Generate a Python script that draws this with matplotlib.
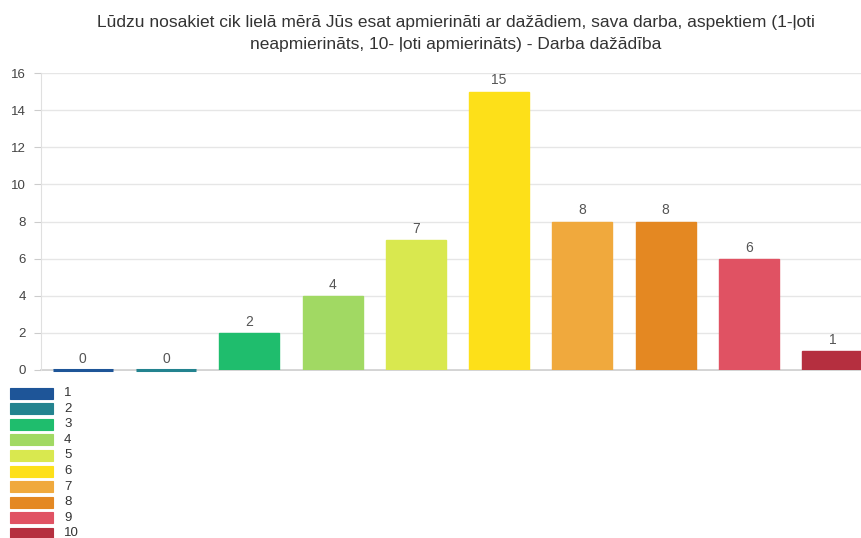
import matplotlib
matplotlib.use("Agg")
import matplotlib.pyplot as plt
from matplotlib.patches import Rectangle

# atbilžu skala un respondentu skaits
categories = ["1", "2", "3", "4", "5", "6", "7", "8", "9", "10"]
counts = [0, 0, 2, 4, 7, 15, 8, 8, 6, 1]
colors = ["#1e5598", "#23838f", "#1fbd6d", "#a1d963", "#d9e84f",
          "#fde019", "#f0a93d", "#e48822", "#e05263", "#b52f3f"]
yticks = [0, 2, 4, 6, 8, 10, 12, 14, 16]
title = ("Lūdzu nosakiet cik lielā mērā Jūs esat apmierināti ar dažādiem, sava darba, aspektiem (1-ļoti\n"
         "neapmierināts, 10- ļoti apmierināts) - Darba dažādība")

W, H = 862, 538
fig = plt.figure(figsize=(W / 100, H / 100), dpi=100)
plt.rcParams['font.family'] = ['Liberation Sans', 'DejaVu Sans']

# grafika laukums pikseļos
left, right, top, bottom = 41, 862, 73, 370
ax = fig.add_axes([left / W, (H - bottom) / H, (right - left) / W, (bottom - top) / H])

step = 83.3
bw = 60 / step
x = list(range(len(categories)))
ax.bar(x, counts, width=bw, color=colors, edgecolor=colors, linewidth=1.0, zorder=3)
for xi, v, c in zip(x, counts, colors):
    if v == 0:
        # nulles stabiņš – tikai plāna līnija pie pamata
        ax.plot([xi - bw / 2, xi + bw / 2], [v, v], color=c, linewidth=2.2,
                solid_capstyle='butt', zorder=4, clip_on=False)
    ax.text(xi, v + 0.22, str(v), ha='center', va='bottom', fontsize=10, color='#555555', zorder=4)

ax.set_xlim(-0.5, -0.5 + (right - left) / step)
ax.set_ylim(0, 16)
ax.set_yticks(yticks)
ax.set_yticklabels([str(t) for t in yticks], fontsize=9.5, color='#444444')
ax.set_xticks([])
ax.tick_params(axis='y', length=5, color='#cccccc', pad=6)
ax.grid(axis='y', color='#e6e6e6', linewidth=1, zorder=0)
for s in ['top', 'right']:
    ax.spines[s].set_visible(False)
ax.spines['left'].set_color('#e0e0e0')
ax.spines['bottom'].set_color('#cccccc')
ax.spines['bottom'].set_linewidth(1.2)
ax.spines['bottom'].set_zorder(1)

fig.text(456 / W, 1 - 15 / H, title, ha='center', va='top', fontsize=12.5,
         color='#333333', linespacing=1.6)

# leģenda zem grafika
row0, row_h = 393, 15.6
for i, (lab, c) in enumerate(zip(categories, colors)):
    yc = row0 + i * row_h
    fig.add_artist(Rectangle((10 / W, (H - yc - 5.5) / H), 43 / W, 11 / H,
                             transform=fig.transFigure, facecolor=c, edgecolor=c, linewidth=0.8))
    fig.text(64 / W, (H - yc) / H, lab, ha='left', va='center', fontsize=9.5, color='#333333')

fig.savefig("out.png", dpi=100)
